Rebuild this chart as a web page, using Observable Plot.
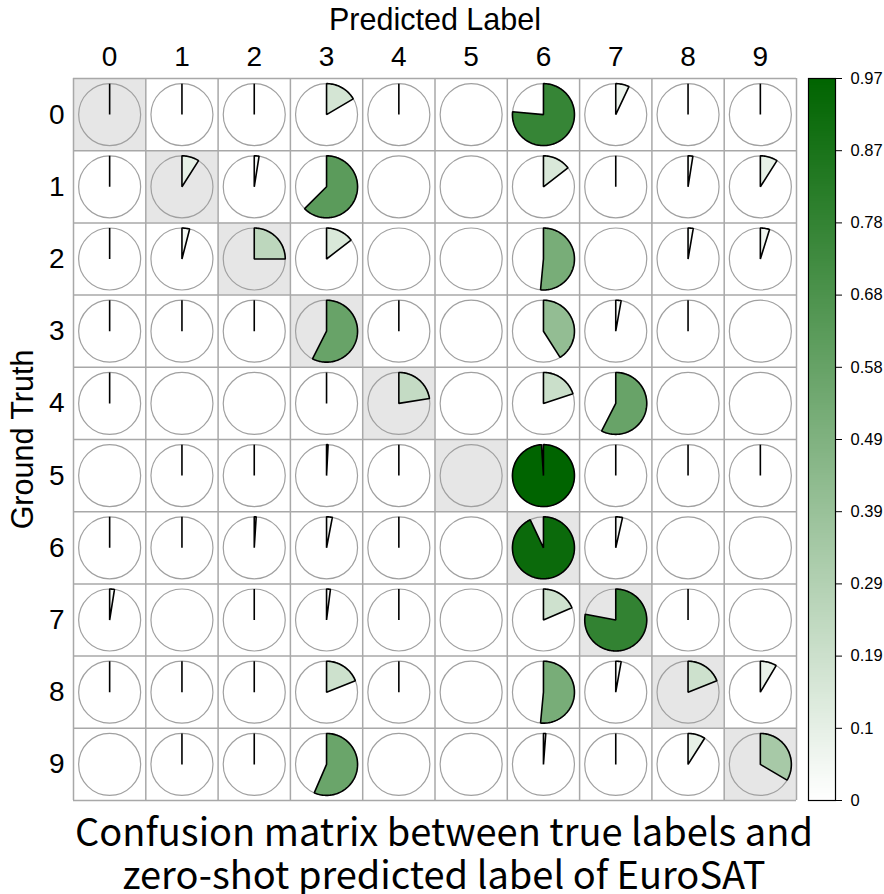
<!DOCTYPE html>
<html>
<head>
<meta charset="utf-8">
<script src="https://cdn.jsdelivr.net/npm/d3@7"></script>
<script src="https://cdn.jsdelivr.net/npm/@observablehq/plot@0.6"></script>
<style>
  html, body { margin: 0; padding: 0; background: #fff; }
  #wrap { position: relative; width: 884px; height: 894px; overflow: hidden; }
  #main { position: absolute; left: 0; top: 0; }
  #bar { position: absolute; left: 800px; top: 0; width: 84px; }
  #title { position: absolute; left: 0; width: 888px; top: 808px; text-align: center;
           font-family: "Noto Sans CJK SC", "Noto Sans", sans-serif; font-size: 38px; line-height: 43px; color: #000; }
</style>
</head>
<body>
<div id="wrap">
  <div id="main"></div>
  <div id="bar"></div>
  <div id="title">Confusion matrix between true labels and<br>zero-shot predicted label of EuroSAT</div>
</div>
<script>
// Class labels (0-9) used for both axes
const labels = [0, 1, 2, 3, 4, 5, 6, 7, 8, 9];

// Rows = ground truth, columns = predicted label; null = no wedge drawn
const gt0 = [0, 0, 0, 0.165, 0, null, 0.765, 0.07, 0, 0];
const gt1 = [0, 0.09, 0.025, 0.625, null, null, 0.145, 0, 0.025, 0.09];
const gt2 = [0, 0.04, 0.25, 0.145, null, null, 0.515, null, 0.027, 0.048];
const gt3 = [0, 0, 0, 0.575, 0, null, 0.41, 0.028, 0, null];
const gt4 = [0, null, null, 0, 0.225, null, 0.2, 0.575, null, null];
const gt5 = [null, 0, 0, 0.008, 0, null, 0.99, 0, 0, 0];
const gt6 = [0, 0, 0.01, 0.03, 0, null, 0.93, 0.035, null, null];
const gt7 = [0.025, null, 0, 0.02, 0, null, 0.185, 0.78, 0, null];
const gt8 = [0, 0, 0, 0.19, 0, null, 0.515, 0.028, 0.19, 0.085];
const gt9 = [null, 0, 0, 0.565, null, null, 0.012, 0, 0.09, 0.335];

// Colorbar
const colorMax = 0.97;
const colorbarTickLabels = ["0", "0.1", "0.19", "0.29", "0.39", "0.49", "0.58", "0.68", "0.78", "0.87", "0.97"];

const matrix = [gt0, gt1, gt2, gt3, gt4, gt5, gt6, gt7, gt8, gt9];
const cells = matrix.flatMap((row, i) => row.map((v, j) => ({truth: labels[i], pred: labels[j], v})));

const cellPx = 72.3;
const circleR = 31;
const R = circleR / cellPx; // radius in data units

const wedgePts = [];
cells.forEach((d, id) => {
  if (d.v == null) return;
  const n = Math.max(2, Math.ceil(d.v * 180));
  wedgePts.push({id, v: d.v, x: d.pred, y: d.truth});
  for (let k = 0; k <= n; k++) {
    const t = 2 * Math.PI * d.v * k / n;
    wedgePts.push({id, v: d.v, x: d.pred + R * Math.sin(t), y: d.truth - R * Math.cos(t)});
  }
});

const colorScale = {type: "linear", domain: [0, colorMax], range: ["#ffffff", "#006400"], interpolate: "rgb", clamp: true};
const bounds = labels.map(l => l - 0.5).concat([labels[labels.length - 1] + 0.5]);
const font = "'Liberation Sans', Arial, sans-serif";

const main = Plot.plot({
  width: 800,
  height: 802,
  marginLeft: 73,
  marginRight: 4,
  marginTop: 78,
  marginBottom: 2,
  style: {fontFamily: font, background: "white", color: "black"},
  x: {type: "linear", domain: [bounds[0], bounds[bounds.length - 1]], axis: null},
  y: {type: "linear", domain: [bounds[bounds.length - 1], bounds[0]], axis: null},
  color: colorScale,
  marks: [
    Plot.rect(labels, {x1: d => d - 0.5, x2: d => d + 0.5, y1: d => d - 0.5, y2: d => d + 0.5, fill: "#e6e6e6"}),
    Plot.ruleX(bounds, {stroke: "#a8a8a8", strokeWidth: 1.5}),
    Plot.ruleY(bounds, {stroke: "#a8a8a8", strokeWidth: 1.5}),
    Plot.dot(cells, {x: "pred", y: "truth", r: circleR, stroke: "#a0a0a0", strokeWidth: 1.2, fill: "none"}),
    Plot.line(wedgePts, {x: "x", y: "y", z: "id", fill: "v", stroke: "black", strokeWidth: 1.6, curve: "linear-closed", strokeLinejoin: "miter"}),
    Plot.axisX(labels, {anchor: "top", tickSize: 0, tickPadding: 13, fontSize: 28, label: null, tickFormat: d => String(d)}),
    Plot.axisY(labels, {anchor: "left", tickSize: 0, tickPadding: 9, fontSize: 28, label: null, tickFormat: d => String(d)}),
    Plot.text(["Predicted Label"], {frameAnchor: "top", lineAnchor: "middle", textAnchor: "middle", dy: -58, fontSize: 30.5, text: d => d}),
    Plot.text(["Ground Truth"], {frameAnchor: "left", lineAnchor: "middle", textAnchor: "middle", dx: -50, rotate: -90, fontSize: 30.5, text: d => d})
  ]
});
document.getElementById("main").appendChild(main);

const nStrips = 300;
const step = colorMax / nStrips;
const strips = d3.range(0, nStrips).map(k => k * step);
const tickValues = colorbarTickLabels.map((_, i) => i * colorMax / (colorbarTickLabels.length - 1));

const bar = Plot.plot({
  width: 84,
  height: 824,
  marginLeft: 8,
  marginRight: 49,
  marginTop: 78,
  marginBottom: 24,
  style: {fontFamily: font, background: "transparent", color: "black", overflow: "visible"},
  x: {domain: [0, 1], axis: null},
  y: {domain: [0, colorMax], axis: null},
  color: colorScale,
  marks: [
    Plot.rect(strips, {x1: 0, x2: 1, y1: d => d, y2: d => Math.min(colorMax, d + step * 1.6), fill: d => d + step / 2, shapeRendering: "crispEdges"}),
    Plot.frame({stroke: "black", strokeWidth: 1.2}),
    Plot.axisY(tickValues, {anchor: "right", tickSize: 6, tickPadding: 9, fontSize: 16.5,
      tickFormat: (d, i) => colorbarTickLabels[i], label: null})
  ]
});
document.getElementById("bar").appendChild(bar);
</script>
</body>
</html>
